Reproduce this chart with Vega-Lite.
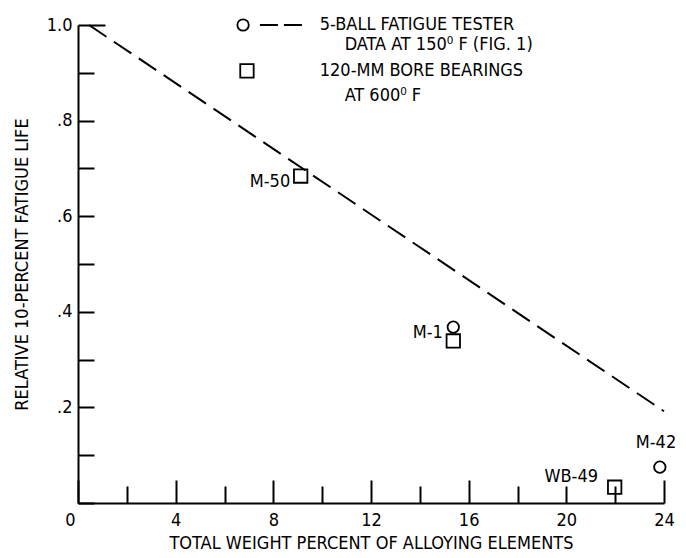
{
  "$schema": "https://vega.github.io/schema/vega-lite/v6.json",
  "width": 586,
  "height": 478,
  "autosize": "none",
  "padding": {"left": 78, "top": 25, "right": 22, "bottom": 55},
  "background": "white",
  "config": {
    "view": {"stroke": null},
    "font": "DejaVu Sans Condensed, sans-serif",
    "axis": {
      "domainColor": "black", "domainWidth": 2, "tickColor": "black", "tickWidth": 2,
      "labelColor": "black", "titleColor": "black", "labelFontSize": 18, "titleFontSize": 18,
      "titleFontWeight": "normal", "grid": false,
      "labelFont": "DejaVu Sans Condensed, sans-serif",
      "titleFont": "DejaVu Sans Condensed, sans-serif"
    }
  },
  "datasets": {
    "circles": [
      {"x": 15.37, "y": 0.368, "name": "M-1"},
      {"x": 23.83, "y": 0.075, "name": "M-42"},
      {"x": 6.76, "y": 1.0, "name": "legend"}
    ],
    "squares": [
      {"x": 9.12, "y": 0.684, "name": "M-50"},
      {"x": 15.37, "y": 0.339, "name": "M-1"},
      {"x": 21.98, "y": 0.033, "name": "WB-49"},
      {"x": 6.92, "y": 0.904, "name": "legend"}
    ],
    "fit": [
      {"x": 0.45, "y": 1.0},
      {"x": 24, "y": 0.192}
    ],
    "legendline": [
      {"x": 7.45, "y": 1.0},
      {"x": 9.2, "y": 1.0}
    ],
    "labels": [
      {"x": 8.69, "y": 0.672, "text": "M-50"},
      {"x": 14.94, "y": 0.356, "text": "M-1"},
      {"x": 21.3, "y": 0.054, "text": "WB-49"},
      {"x": 24.5, "y": 0.126, "text": "M-42"}
    ],
    "legendtext": [
      {"x": 9.9, "y": 1.0, "text": "5-BALL FATIGUE TESTER"},
      {"x": 10.92, "y": 0.958, "text": "DATA AT 150⁰ F (FIG. 1)"},
      {"x": 9.9, "y": 0.904, "text": "120-MM BORE BEARINGS"},
      {"x": 10.92, "y": 0.851, "text": "AT 600⁰ F"}
    ]
  },
  "layer": [
    {
      "data": {"name": "fit"},
      "mark": {"type": "line", "color": "black", "strokeWidth": 2, "strokeDash": [21, 9], "clip": false},
      "encoding": {
        "x": {
          "field": "x", "type": "quantitative",
          "scale": {"domain": [0, 24], "nice": false, "zero": false},
          "axis": {
            "values": [0, 2, 4, 6, 8, 10, 12, 14, 16, 18, 20, 22, 24],
            "labelExpr": "datum.value % 4 == 0 ? datum.label : ''",
            "tickSize": {"condition": {"test": "datum.value % 4 == 0 && datum.value != 20", "value": -23}, "value": -17},
            "labelPadding": {"condition": {"test": "datum.value % 4 == 0 && datum.value != 20", "value": 31}, "value": 25},
            "labelOffset": {"condition": {"test": "datum.value == 0", "value": -8}, "value": 0},
            "labelBaseline": "top",
            "labelFlush": false,
            "labelOverlap": false,
            "title": "TOTAL WEIGHT PERCENT OF ALLOYING ELEMENTS",
            "titleX": 293, "titleY": 40, "titleBaseline": "middle", "titleAnchor": null, "titleAlign": "center"
          }
        },
        "y": {
          "field": "y", "type": "quantitative",
          "scale": {"domain": [0, 1], "nice": false, "zero": false},
          "axis": {
            "values": [0, 0.1, 0.2, 0.3, 0.4, 0.5, 0.6, 0.7, 0.8, 0.9, 1.0],
            "labelExpr": "datum.value == 1 ? '1.0' : (datum.value > 0 && round(datum.value * 10) % 2 == 0 ? '.' + round(datum.value * 10) : '')",
            "tickSize": {"condition": {"test": "datum.value == 1", "value": -27}, "value": -16},
            "labelPadding": {"condition": {"test": "datum.value == 1", "value": 33}, "value": 22},
            "labelFlush": false,
            "labelOverlap": false,
            "title": "RELATIVE 10-PERCENT FATIGUE LIFE",
            "titleX": -56, "titleY": 239, "titleAngle": -90, "titleBaseline": "middle", "titleAlign": "center", "titleAnchor": null
          }
        }
      }
    },
    {
      "data": {"name": "legendline"},
      "mark": {"type": "line", "color": "black", "strokeWidth": 2, "strokeDash": [18, 6], "clip": false},
      "encoding": {
        "x": {"field": "x", "type": "quantitative"},
        "y": {"field": "y", "type": "quantitative"}
      }
    },
    {
      "data": {"name": "circles"},
      "mark": {"type": "point", "shape": "circle", "filled": false, "color": "black", "strokeWidth": 1.8, "size": 130, "opacity": 1, "clip": false},
      "encoding": {
        "x": {"field": "x", "type": "quantitative"},
        "y": {"field": "y", "type": "quantitative"}
      }
    },
    {
      "data": {"name": "squares"},
      "mark": {"type": "point", "shape": "square", "filled": false, "color": "black", "strokeWidth": 1.8, "size": 180, "opacity": 1, "clip": false},
      "encoding": {
        "x": {"field": "x", "type": "quantitative"},
        "y": {"field": "y", "type": "quantitative"}
      }
    },
    {
      "data": {"name": "labels"},
      "mark": {"type": "text", "align": "right", "baseline": "middle", "fontSize": 18, "color": "black", "clip": false},
      "encoding": {
        "x": {"field": "x", "type": "quantitative"},
        "y": {"field": "y", "type": "quantitative"},
        "text": {"field": "text"}
      }
    },
    {
      "data": {"name": "legendtext"},
      "mark": {"type": "text", "align": "left", "baseline": "middle", "fontSize": 18, "color": "black", "clip": false},
      "encoding": {
        "x": {"field": "x", "type": "quantitative"},
        "y": {"field": "y", "type": "quantitative"},
        "text": {"field": "text"}
      }
    }
  ]
}
